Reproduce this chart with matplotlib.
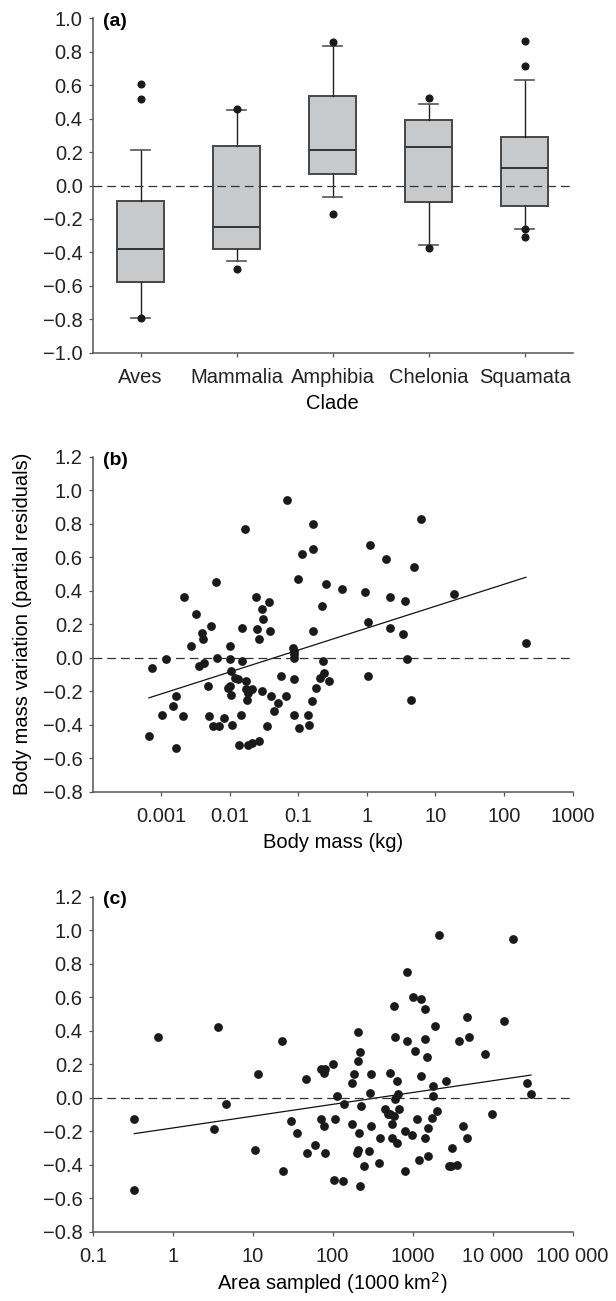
import matplotlib
matplotlib.use('Agg')
import matplotlib.pyplot as plt
import numpy as np
from matplotlib.ticker import FuncFormatter, FixedLocator

plt.rcParams['font.family'] = ['Liberation Sans', 'DejaVu Sans']
plt.rcParams['font.size'] = 14.5

# ---- (a) box plots per clade ----
clades = ['Aves', 'Mammalia', 'Amphibia', 'Chelonia', 'Squamata']
q1 = [-0.58, -0.38, 0.07, -0.10, -0.12]
med = [-0.38, -0.25, 0.21, 0.23, 0.105]
q3 = [-0.09, 0.235, 0.535, 0.39, 0.29]
whislo = [-0.79, -0.45, -0.07, -0.355, -0.26]
whishi = [0.21, 0.45, 0.835, 0.485, 0.63]
fliers = [[0.605, 0.515, -0.79],
          [0.46, -0.50],
          [0.86, -0.17],
          [0.525, -0.375],
          [0.865, 0.715, -0.26, -0.31]]

# ---- (b) body mass (log10 kg) vs partial residuals ----
log_mass = [-3.18, -3.14, -2.93, -2.99, -2.83, -2.78, -2.69, -2.78, -2.67, -2.57,
            -2.49, -2.41, -2.39, -2.28, -2.45, -2.37, -2.32, -2.31, -2.25, -2.16,
            -2.20, -2.18, -2.09, -2.00, -2.00, -1.98, -1.97, -2.02, -1.99, -1.98,
            -1.93, -1.88, -1.82, -1.82, -1.83, -1.87, -1.78, -1.76, -1.74, -1.76,
            -1.75, -1.73, -1.67, -1.68, -1.58, -1.62, -1.61, -1.58, -1.53, -1.51,
            -1.43, -1.42, -1.53, -1.46, -1.40, -1.36, -1.30, -1.26, -1.18, -1.17,
            -1.08, -1.07, -1.07, -1.07, -1.07, -1.07, -1.00, -0.99, -0.94, -0.86,
            -0.84, -0.79, -0.78, -0.79, -0.80, -0.75, -0.68, -0.63, -0.64, -0.65,
            -0.59, -0.55, -0.36, -0.03, 0.04, 0.02, 0.01, 0.28, 0.34, 0.34,
            0.56, 0.52, 0.58, 0.64, 0.69, 0.79, 1.27, 2.32]
resid_b = [-0.47, -0.06, -0.01, -0.34, -0.29, -0.23, -0.35, -0.54, 0.36, 0.07,
           0.26, 0.15, 0.11, 0.19, -0.05, -0.03, -0.17, -0.35, -0.41, -0.41,
           0.45, 0.00, -0.36, 0.07, -0.01, -0.08, -0.40, -0.18, -0.17, -0.22,
           -0.12, -0.13, -0.02, 0.18, -0.34, -0.52, 0.77, -0.14, -0.52, -0.19,
           -0.25, -0.21, -0.19, -0.51, -0.50, 0.36, 0.17, 0.11, 0.29, 0.23,
           0.33, 0.16, -0.20, -0.41, -0.23, -0.32, -0.27, -0.11, -0.23, 0.94,
           0.06, 0.04, 0.02, 0.00, -0.13, -0.34, 0.47, -0.42, 0.62, -0.34,
           -0.40, 0.80, 0.65, 0.16, -0.26, -0.18, -0.12, -0.09, -0.02, 0.31,
           0.44, -0.14, 0.41, 0.39, 0.67, 0.21, -0.11, 0.59, 0.36, 0.18,
           0.34, 0.14, -0.01, -0.25, 0.54, 0.83, 0.38, 0.09]
fit_b_x = [-3.18, 2.32]
fit_b_y = [-0.24, 0.48]

# ---- (c) area sampled (log10 1000 km2) vs partial residuals ----
log_area = [-0.48, -0.48, -0.18, 0.52, 0.57, 0.67, 1.03, 1.07, 1.37, 1.38,
            1.48, 1.56, 1.67, 1.68, 1.78, 1.86, 1.89, 1.91, 2.00, 1.86,
            1.89, 1.90, 2.02, 2.03, 2.06, 2.13, 2.14, 2.24, 2.27, 2.24,
            2.32, 2.34, 2.32, 2.33, 2.32, 2.31, 2.34, 2.36, 2.39, 2.46,
            2.48, 2.47, 2.48, 2.59, 2.58, 2.66, 2.72, 2.72, 2.74, 2.74,
            2.77, 2.78, 2.77, 2.78, 2.80, 2.82, 2.81, 2.83, 2.90, 2.91,
            2.93, 2.93, 2.99, 3.01, 3.03, 3.06, 3.08, 3.10, 3.11, 3.15,
            3.15, 3.15, 3.18, 3.19, 3.19, 3.24, 3.25, 3.26, 3.28, 3.31,
            3.33, 3.42, 3.45, 3.49, 3.48, 3.56, 3.58, 3.63, 3.68, 3.71,
            3.68, 3.91, 3.99, 4.14, 4.25, 4.43, 4.48, 2.69]
resid_c = [-0.13, -0.55, 0.36, -0.19, 0.42, -0.04, -0.31, 0.14, 0.34, -0.44,
           -0.14, -0.21, 0.11, -0.33, -0.28, 0.17, 0.15, 0.17, 0.20, -0.13,
           -0.17, -0.33, -0.49, -0.13, 0.01, -0.50, -0.04, 0.09, 0.14, -0.16,
           0.39, 0.27, 0.22, -0.21, -0.31, -0.33, -0.53, -0.05, -0.41, -0.32,
           0.14, 0.03, -0.17, -0.24, -0.39, -0.07, 0.15, -0.10, -0.16, -0.24,
           0.55, 0.36, -0.11, -0.01, 0.10, 0.02, -0.27, -0.07, -0.20, -0.44,
           0.34, 0.75, -0.22, 0.60, 0.28, -0.13, -0.37, 0.13, 0.59, 0.35,
           0.53, -0.24, 0.24, -0.18, -0.35, -0.12, 0.07, 0.01, 0.43, -0.08,
           0.97, 0.10, -0.41, -0.30, -0.41, -0.40, 0.34, -0.17, 0.48, 0.36,
           -0.24, 0.26, -0.10, 0.46, 0.95, 0.09, 0.02, -0.095]
fit_c_x = [-0.48, 4.48]
fit_c_y = [-0.215, 0.135]

mass_ticks = [0.001, 0.01, 0.1, 1, 10, 100, 1000]
mass_labels = ['0.001', '0.01', '0.1', '1', '10', '100', '1000']
area_ticks = [0.1, 1, 10, 100, 1000, 10000, 100000]
area_labels = ['0.1', '1', '10', '100', '1000', '10 000', '100 000']

spine_col = '#555555'
dot_col = '#1a1a1a'


def minus_fmt(v, pos):
    return ('%.1f' % v).replace('-', '\u2212')


def style_axis(ax, letter):
    for s in ['top', 'right']:
        ax.spines[s].set_visible(False)
    for s in ['left', 'bottom']:
        ax.spines[s].set_color(spine_col)
        ax.spines[s].set_linewidth(1.1)
    ax.tick_params(axis='both', which='major', direction='out', length=3.2, width=0.9,
                   color=spine_col, labelcolor='#222222')
    ax.tick_params(axis='x', pad=8)
    ax.tick_params(axis='y', pad=4)
    ax.tick_params(axis='both', which='minor', length=0)
    ax.yaxis.set_major_formatter(FuncFormatter(minus_fmt))
    ax.text(0.021, 0.99, letter, transform=ax.transAxes, ha='left', va='center',
            fontweight='bold', fontsize=14)


fig = plt.figure(figsize=(6.16, 13.01), dpi=100)
ax_a = fig.add_axes([0.1505, 0.7289, 0.779, 0.2570])
ax_b = fig.add_axes([0.1505, 0.3915, 0.779, 0.2575])
ax_c = fig.add_axes([0.1505, 0.0533, 0.779, 0.2575])

# (a)
stats = []
for i in range(len(clades)):
    stats.append({'label': clades[i], 'q1': q1[i], 'med': med[i], 'q3': q3[i],
                  'whislo': whislo[i], 'whishi': whishi[i], 'fliers': fliers[i]})
ax_a.bxp(stats, positions=range(len(clades)), widths=0.49, capwidths=0.2,
         patch_artist=True,
         boxprops=dict(facecolor='#c8c9cb', edgecolor='#474747', linewidth=1.4),
         medianprops=dict(color='#333333', linewidth=1.4),
         whiskerprops=dict(color='#222222', linewidth=1.0),
         capprops=dict(color='#555555', linewidth=1.2),
         flierprops=dict(marker='o', markersize=4.8, markerfacecolor=dot_col,
                         markeredgecolor=dot_col))
ax_a.axhline(0, color='#333333', linewidth=0.9, dashes=(7, 4), zorder=5)
ax_a.set_xlim(-0.5, 4.5)
ax_a.set_ylim(-1.0, 1.0)
ax_a.set_yticks(np.round(np.arange(-10, 11, 2) / 10, 1))
ax_a.set_xlabel('Clade', labelpad=5)
style_axis(ax_a, '(a)')

# (b)
ax_b.scatter(np.power(10.0, log_mass), resid_b, s=40, color=dot_col, linewidths=0, zorder=3)
ax_b.plot(np.power(10.0, fit_b_x), fit_b_y, color='#111111', linewidth=0.9)
ax_b.axhline(0, color='#333333', linewidth=0.9, dashes=(7, 4), zorder=2)
ax_b.set_xscale('log')
ax_b.set_xlim(1e-4, 1e3)
ax_b.set_ylim(-0.8, 1.2)
ax_b.xaxis.set_major_locator(FixedLocator(mass_ticks))
ax_b.set_xticklabels(mass_labels)
ax_b.set_yticks(np.round(np.arange(-8, 13, 2) / 10, 1))
ax_b.set_xlabel('Body mass (kg)', labelpad=5)
ax_b.set_ylabel('Body mass variation (partial residuals)', labelpad=8)
style_axis(ax_b, '(b)')

# (c)
ax_c.scatter(np.power(10.0, log_area), resid_c, s=40, color=dot_col, linewidths=0, zorder=3)
ax_c.plot(np.power(10.0, fit_c_x), fit_c_y, color='#111111', linewidth=0.9)
ax_c.axhline(0, color='#333333', linewidth=0.9, dashes=(7, 4), zorder=2)
ax_c.set_xscale('log')
ax_c.set_xlim(0.1, 1e5)
ax_c.set_ylim(-0.8, 1.2)
ax_c.xaxis.set_major_locator(FixedLocator(area_ticks))
ax_c.set_xticklabels(area_labels)
ax_c.set_yticks(np.round(np.arange(-8, 13, 2) / 10, 1))
ax_c.set_xlabel('Area sampled (1000 km$^2$)', labelpad=3)
style_axis(ax_c, '(c)')

fig.savefig('out.png', dpi=100)
